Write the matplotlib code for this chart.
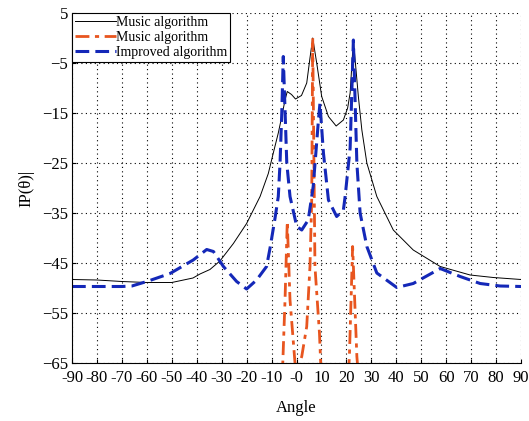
import numpy as np
import matplotlib
matplotlib.use("Agg")
import matplotlib.pyplot as plt

# values
theta_music = [-90, -80, -70, -60, -50, -41.5, -38.7, -34.7, -30.7, -25.3, -20, -14.6, -11.3, -9.3, -7.3,
               -5.9, -4.6, -3.7, -2, -0.4, 2, 4.1, 5.4, 6.5, 8.1, 10.1, 12.8, 15.9, 18.8, 20.5, 21.5, 22.8,
               24.8, 26.2, 28.2, 32.2, 38.8, 46.8, 57.6, 69.6, 78.9, 90]
p_music = [-48.3, -48.4, -48.7, -48.9, -48.9, -48, -47.2, -46.3, -44.6, -41.1, -37.1, -31.7, -27.1, -23,
           -19, -15.7, -12.4, -10.7, -11.3, -12.2, -11.5, -9, -4, 0, -5, -11.7, -15.7, -17.6, -16.4, -14,
           -11, -0.4, -11.7, -18.4, -25, -31.7, -38.4, -42.4, -45.7, -47.4, -47.9, -48.3]

theta_music2 = [-8, -5.5, -4.6, -3.7, -2.6, -0.6, 0.5, 2.1, 4.1, 5.4, 6.1, 6.5, 7.4, 9.2, 9.7, 11,
                20, 21.2, 22.5, 24.2, 26]
p_music2 = [-75, -65, -52.4, -36.7, -52.4, -65, -66, -63.7, -57.7, -45.7, -32.4, 0, -45.7, -59, -65, -75,
            -75, -63.7, -41.7, -63.7, -75]

theta_impr = [-90, -80, -70, -66, -60, -50.7, -41.4, -36, -33.3, -29.3, -24, -20, -16, -12, -10.6, -8.6,
              -7.3, -6.6, -5.9, -5.3, -3.9, -2.6, 0.1, 2.1, 4.7, 6.7, 8.8, 9.4, 10.8, 12.8, 16.1, 18.8,
              19.5, 21.5, 22.8, 24.2, 25.5, 28.2, 32.2, 40.2, 46.8, 57.6, 65.6, 73.6, 81.6, 90]
p_impr = [-49.7, -49.7, -49.7, -49.6, -48.7, -47.1, -44.4, -42.3, -42.7, -45.7, -48.7, -50.2, -48.4, -45.7,
          -42, -36, -31.7, -25, -15, -3.7, -25, -31.7, -37.7, -38.4, -36.4, -29.7, -16.4, -13.1, -23,
          -32.4, -35.7, -34.4, -31.7, -22, -0.4, -25, -35, -41.7, -47, -49.9, -49.1, -46.1, -47.7, -49.1,
          -49.6, -49.7]

xticks = list(range(-90, 100, 10))
xtick_labels = [("-0" if v == 0 else str(v)) for v in xticks]
yticks = [5, -5, -15, -25, -35, -45, -55, -65]

plt.rcParams['font.family'] = ['Liberation Serif', 'DejaVu Serif']

fig = plt.figure(figsize=(5.29, 4.21), dpi=100)
ax = fig.add_axes([72/529, 58/421, 449/529, 350/421])

ax.plot(theta_music, p_music, color="black", lw=0.7, label="Music algorithm")
ax.plot(theta_music2, p_music2, color="#e8551f", lw=2.0, dashes=(5, 2, 1.5, 2), label="Music algorithm")
ax.plot(theta_impr, p_impr, color="#1428b8", lw=2.2, dashes=(4.5, 2), label="Improved algorithm")

ax.set_xlim(-90, 90)
ax.set_ylim(-65, 5)
ax.set_xticks(xticks)
ax.set_xticklabels(xtick_labels)
ax.set_yticks(yticks)
ax.tick_params(direction="in", labelsize=12, length=3, pad=3)
ax.tick_params(axis="x", pad=5)
ax.grid(True, color="black", linestyle=(0, (1, 3)), lw=0.8)
ax.spines["top"].set_visible(False)
ax.spines["right"].set_visible(False)

ax.set_xlabel("Angle", fontsize=12, labelpad=10)
ax.set_ylabel("IP(θ)|", fontsize=12, labelpad=5)

leg = ax.legend(loc="upper left", fontsize=10, borderaxespad=0, handlelength=3, handletextpad=0,
                labelspacing=0.15, borderpad=0.2, fancybox=False, framealpha=1)
leg.get_frame().set_edgecolor("black")
leg.get_frame().set_linewidth(0.8)

fig.savefig("out.png", dpi=100)
